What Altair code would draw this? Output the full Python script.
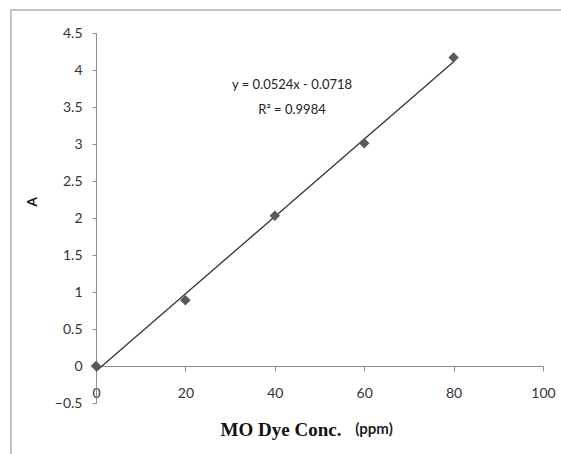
import altair as alt
import pandas as pd

conc = [0, 20, 40, 60, 80]
absorb = [0, 0.89, 2.03, 3.01, 4.17]
equation = ["y = 0.0524x - 0.0718", "R² = 0.9984"]
x_ticks = [0, 20, 40, 60, 80, 100]
y_ticks = [-0.5, 0, 0.5, 1, 1.5, 2, 2.5, 3, 3.5, 4, 4.5]

W, H = 447, 370
df = pd.DataFrame({"conc": conc, "A": absorb})
one = pd.DataFrame({"a": [0]})

xs = alt.Scale(domain=[0, 100], nice=False)
ys = alt.Scale(domain=[-0.5, 4.5], nice=False)
xax = alt.Axis(title=None, values=x_ticks, offset=-37, tickSize=5, labelPadding=15)
yax = alt.Axis(title=None, values=y_ticks, tickSize=4, labelPadding=10, format="~g")

base = alt.Chart(df)

trend = base.transform_regression("conc", "A").mark_line(color="#333333", strokeWidth=1.3).encode(
    x=alt.X("conc:Q", scale=xs, axis=xax), y=alt.Y("A:Q", scale=ys, axis=yax)
)

points = base.mark_point(shape="diamond", filled=True, size=110, color="#595959", opacity=1).encode(
    x=alt.X("conc:Q", scale=xs, axis=xax),
    y=alt.Y("A:Q", scale=ys, axis=yax),
)

frame = alt.Chart(one).mark_rect(fill=None, stroke="#c4c4c4", strokeWidth=2).encode(
    x=alt.value(-85), x2=alt.value(480), y=alt.value(-23), y2=alt.value(440)
)

eq = alt.Chart(one).mark_text(font="Lato", fontSize=13, color="#222222", lineHeight=25, baseline="middle").encode(
    x=alt.value(196), y=alt.value(52), text=alt.value(equation)
)

xt1 = alt.Chart(one).mark_text(font="Liberation Serif", fontWeight="bold", fontSize=19, color="#111111").encode(
    x=alt.value(185), y=alt.value(397), text=alt.value("MO Dye Conc.")
)
xt2 = alt.Chart(one).mark_text(font="Lato", fontWeight="bold", fontSize=15, color="#222222").encode(
    x=alt.value(278), y=alt.value(396), text=alt.value("(ppm)")
)
yt = alt.Chart(one).mark_text(font="Lato", fontWeight="bold", fontSize=14, color="#111111", angle=270).encode(
    x=alt.value(-63), y=alt.value(169), text=alt.value("A")
)

chart = alt.layer(frame, trend, points, eq, xt1, xt2, yt).properties(
    width=W, height=H,
    background="white",
    autosize=alt.AutoSizeParams(type="none"),
    padding={"left": 96, "top": 33, "right": 18, "bottom": 51},
).configure_view(stroke=None).configure_axis(
    grid=False, labelOverlap=False, labelFlush=False, labelBound=False,
    domainColor="#8c8c8c", tickColor="#8c8c8c",
    labelFont="Lato", labelFontSize=14, labelColor="#333333",
)

chart.save("out.html", embed_options={"renderer": "svg", "actions": False})
